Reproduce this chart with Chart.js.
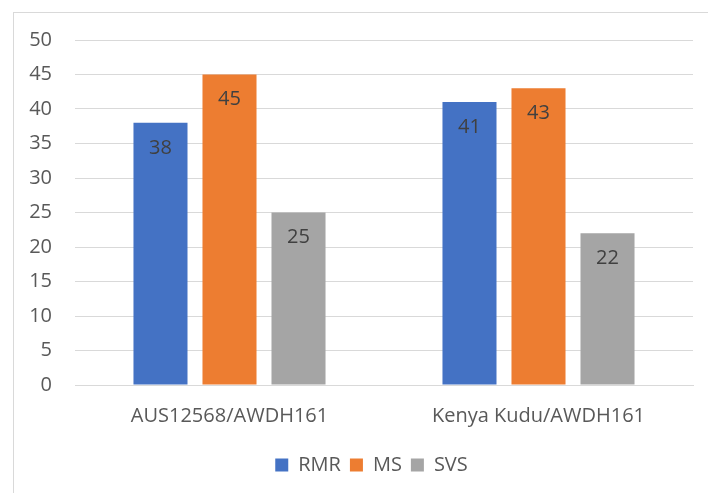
<!DOCTYPE html>
<html>
<head>
<meta charset="utf-8">
<script src="https://cdn.jsdelivr.net/npm/chart.js@4/dist/chart.umd.min.js"></script>
<style>
  html, body { margin: 0; padding: 0; background: #fff; overflow: hidden; }
  #frame { position: absolute; left: 13px; top: 12px; width: 800px; height: 600px; border: 1px solid #d9d9d9; }
  #wrap { position: absolute; left: 0; top: 0; width: 708px; height: 493px; }
</style>
</head>
<body>
<div id="frame"></div>
<div id="wrap"><canvas id="chart" width="708" height="493"></canvas></div>
<script>
// data
const categories = ['AUS12568/AWDH161', 'Kenya Kudu/AWDH161'];
const seriesNames = ['RMR', 'MS', 'SVS'];
const rmrValues = [38, 41];
const msValues = [45, 43];
const svsValues = [25, 22];
const yTicks = [0, 5, 10, 15, 20, 25, 30, 35, 40, 45, 50];

const colors = ['#4472C4', '#ED7D31', '#A5A5A5'];
const fontFamily = '"Open Sans", "Liberation Sans", sans-serif';

// simple inside-end value labels (no datalabels plugin available)
const valueLabels = {
    id: 'valueLabels',
    afterDatasetsDraw(chart) {
        const ctx = chart.ctx;
        ctx.save();
        ctx.font = '20px ' + fontFamily;
        ctx.fillStyle = '#404040';
        ctx.textAlign = 'center';
        ctx.textBaseline = 'middle';
        chart.data.datasets.forEach((ds, i) => {
            chart.getDatasetMeta(i).data.forEach((bar, j) => {
                ctx.fillText(String(ds.data[j]), bar.x, bar.y + 25);
            });
        });
        ctx.restore();
    }
};

// legend in the reference sits a little right of the canvas centre
const legendShift = {
    id: 'legendShift',
    afterLayout(chart) {
        chart.legend.left += 25;
        chart.legend.right += 25;
    }
};

new Chart(document.getElementById('chart'), {
    type: 'bar',
    data: {
        labels: categories,
        datasets: [
            { label: seriesNames[0], data: rmrValues, backgroundColor: colors[0] },
            { label: seriesNames[1], data: msValues, backgroundColor: colors[1] },
            { label: seriesNames[2], data: svsValues, backgroundColor: colors[2] }
        ]
    },
    options: {
        responsive: false,
        animation: false,
        categoryPercentage: 0.67,
        barPercentage: 0.783,
        layout: { padding: { top: 40, right: 15, left: 0, bottom: 8 } },
        plugins: {
            legend: {
                position: 'bottom',
                labels: {
                    boxWidth: 13,
                    boxHeight: 13,
                    padding: 9,
                    color: '#595959',
                    font: { family: fontFamily, size: 20 }
                }
            },
            tooltip: { enabled: false }
        },
        scales: {
            x: {
                grid: { display: false },
                border: { color: '#d9d9d9', width: 1 },
                ticks: { color: '#595959', padding: 11, font: { family: fontFamily, size: 20 } },
                afterFit: (s) => { s.height = 61; }
            },
            y: {
                min: 0,
                max: 50,
                afterBuildTicks: (s) => { s.ticks = yTicks.map(v => ({ value: v })); },
                grid: { color: '#d9d9d9', lineWidth: 1, drawTicks: false },
                border: { display: false },
                ticks: { color: '#595959', padding: 23, font: { family: fontFamily, size: 20 } },
                afterFit: (s) => { s.width = 75; }
            }
        }
    },
    plugins: [valueLabels, legendShift]
});
</script>
</body>
</html>
